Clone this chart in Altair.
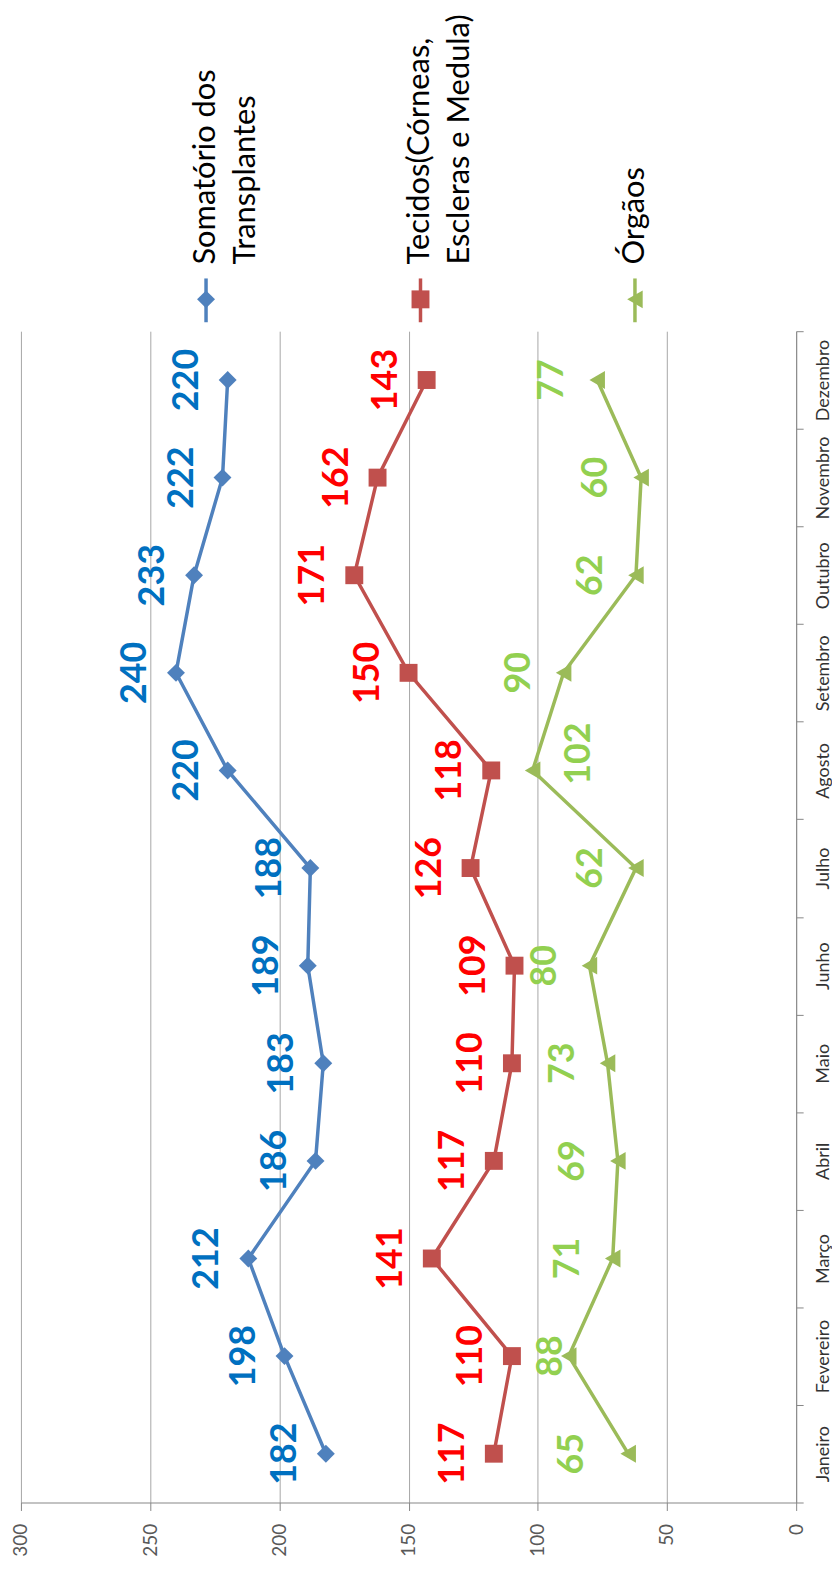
import altair as alt
import pandas as pd

# ---------------- data ----------------
months = ["Janeiro", "Fevereiro", "Março", "Abril", "Maio", "Junho",
          "Julho", "Agosto", "Setembro", "Outubro", "Novembro", "Dezembro"]
somatorio = [182, 198, 212, 186, 183, 189, 188, 220, 240, 233, 222, 220]
tecidos = [117, 110, 141, 117, 110, 109, 126, 118, 150, 171, 162, 143]
orgaos = [65, 88, 71, 69, 73, 80, 62, 102, 90, 62, 60, 77]
series_names = ["Somatório dos Transplantes",
                "Tecidos(Córneas, Escleras e Medula)",
                "Órgãos"]
legend_texts = ["Somatório dos\nTransplantes",
                "Tecidos(Córneas,\nEscleras e Medula)",
                "Órgãos"]
x_ticks = [0, 50, 100, 150, 200, 250, 300]

# ---------------- styles ----------------
series_colors = ["#4F81BD", "#C0504D", "#9BBB59"]
label_colors = ["#0070C0", "#FF0000", "#92D050"]
shapes = ["diamond", "square", "triangle-left"]

rows = []
for s, vals in zip(series_names, [somatorio, tecidos, orgaos]):
    for i, (m, v) in enumerate(zip(months, vals)):
        rows.append({"series": s, "month": m, "idx": i, "value": v})
df = pd.DataFrame(rows)
legend_df = pd.DataFrame({"series": series_names, "text": legend_texts})

color_scale = alt.Scale(domain=series_names, range=series_colors)
shape_scale = alt.Scale(domain=series_names, range=shapes)

x_enc = alt.X(
    "value:Q",
    scale=alt.Scale(domain=[0, 300], reverse=True, nice=False),
    axis=alt.Axis(values=x_ticks, labelAngle=270, labelAlign="right",
                  labelBaseline="middle", title=None, grid=True,
                  gridColor="#A6A6A6", gridWidth=1, domainColor="#868686",
                  tickColor="#868686", tickSize=8, labelPadding=13,
                  labelFont="Lato", labelFontSize=19, labelColor="#595959"),
)
y_enc = alt.Y(
    "month:N",
    sort=months[::-1],
    scale=alt.Scale(type="band", paddingInner=0, paddingOuter=0),
    axis=alt.Axis(orient="right", tickBand="extent", labelAngle=270,
                  labelAlign="center", labelBaseline="top", title=None,
                  grid=False, domainColor="#868686", tickColor="#868686",
                  tickSize=7, labelPadding=11, labelFont="Lato",
                  labelFontSize=18, labelColor="#333333"),
)

base = alt.Chart(df).encode(x=x_enc, y=y_enc)

lines = base.mark_line(strokeWidth=3.5).encode(
    color=alt.Color("series:N", scale=color_scale, legend=None),
    detail="series:N",
    order=alt.Order("idx:Q"),
)
points = base.mark_point(filled=True, opacity=1, size=324).encode(
    color=alt.Color("series:N", scale=color_scale, legend=None),
    shape=alt.Shape("series:N", scale=shape_scale, legend=None),
)


def labels(series_i, dy, months_in=None, months_out=None, dx=0):
    s = series_names[series_i]
    flt = alt.datum.series == s
    ch = base.transform_filter(flt)
    if months_in is not None:
        ch = ch.transform_filter(alt.FieldOneOfPredicate(field="month", oneOf=months_in))
    if months_out is not None:
        ch = ch.transform_filter(~alt.FieldOneOfPredicate(field="month", oneOf=months_out))
    return ch.mark_text(font="Lato", fontWeight="bold", fontSize=36,
                        angle=270, align="center", baseline="alphabetic",
                        dy=dy, dx=dx, color=label_colors[series_i]).encode(
        text="value:Q")


lab_layers = [
    labels(0, -30),
    labels(1, -30),
    labels(2, -34, months_out=["Janeiro", "Fevereiro", "Agosto"]),
    labels(2, -45, months_in=["Janeiro"]),
    labels(2, -7, months_in=["Fevereiro"]),
    labels(2, 58, months_in=["Agosto"], dx=17),
]

main = alt.layer(lines, points, *lab_layers)

leg_x = alt.X("series:N",
              scale=alt.Scale(type="point", domain=series_names,
                              range=[186, 617], padding=0),
              axis=None)
leg_base = alt.Chart(legend_df).encode(x=leg_x)
leg_rule = leg_base.mark_rule(strokeWidth=3.5).encode(
    y=alt.value(-53), y2=alt.value(-9),
    color=alt.Color("series:N", scale=color_scale, legend=None),
)
leg_pt = leg_base.mark_point(filled=True, opacity=1, size=324).encode(
    y=alt.value(-32),
    color=alt.Color("series:N", scale=color_scale, legend=None),
    shape=alt.Shape("series:N", scale=shape_scale, legend=None),
)
leg_txt = leg_base.mark_text(font="Lato", fontSize=31, angle=270,
                             align="left", baseline="middle",
                             lineBreak="\n", lineHeight=40,
                             color="black").encode(
    y=alt.value(-67), text="text:N")
legend = alt.layer(leg_rule, leg_pt, leg_txt)

chart = alt.layer(main, legend).resolve_scale(x="independent").properties(
    width=779, height=1177,
    padding={"left": 4, "top": 2, "right": 0, "bottom": 0},
).configure_view(strokeWidth=0)

chart.save("out.html", embed_options={"renderer": "svg", "actions": False})
